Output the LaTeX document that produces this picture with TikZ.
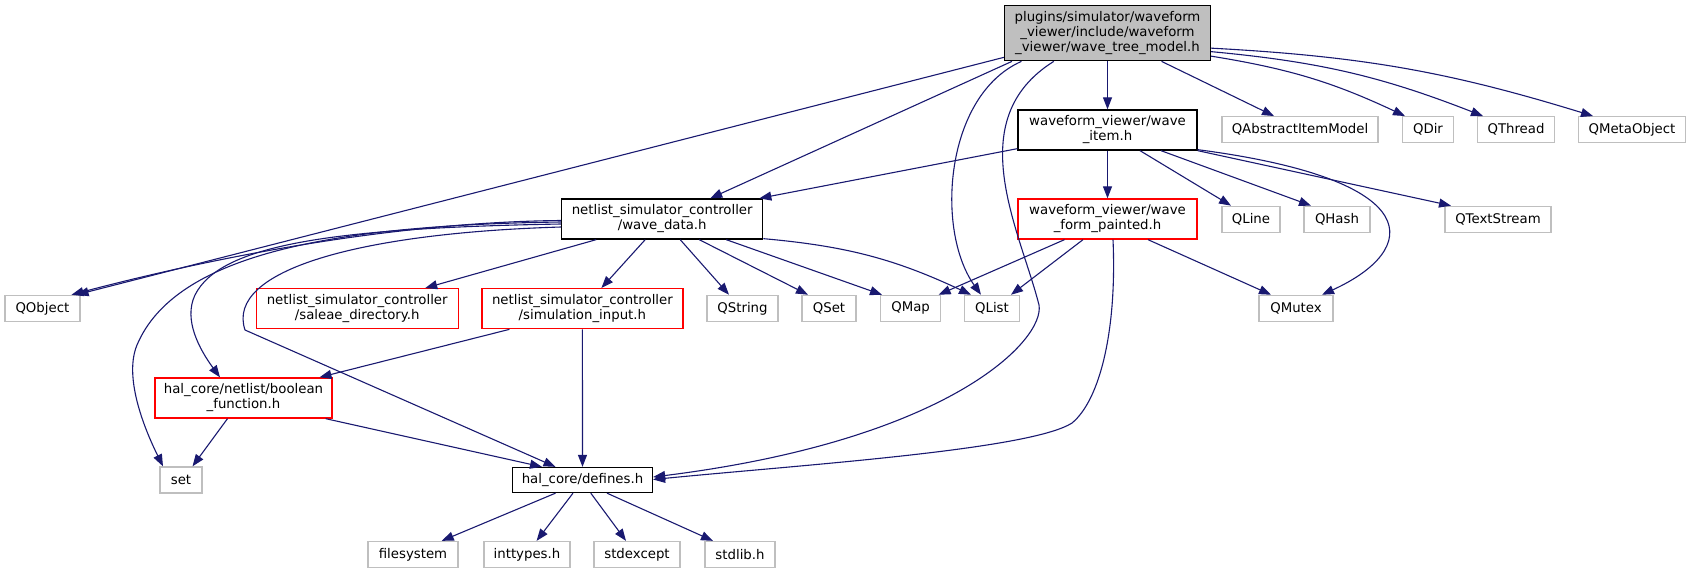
\documentclass[tikz,border=0pt]{standalone}
\usepackage{fontspec}
\setmainfont{DejaVu Sans}
\usepackage{tikz}
\usetikzlibrary{arrows.meta}
\definecolor{incblue}{HTML}{191970}
\definecolor{grey75}{HTML}{BFBFBF}

\begin{document}
\begin{tikzpicture}[x=1pt,y=-1pt,
  hdr/.style={rectangle,draw=black,line width=1.3pt,inner sep=0pt,align=center,font=\fontsize{13.3}{15}\selectfont},
  sys/.style={hdr,draw=grey75},
  part/.style={hdr,draw=red},
  incl/.style={draw=incblue,line width=1.1pt,-{Triangle[length=12pt,width=9pt]}}]
  \useasboundingbox (0,0) rectangle (1691,573);
  % top row
  \node[hdr,fill=grey75,minimum width=206,minimum height=55] (root) at (1107.5,33.2) {plugins/simulator/waveform\\\_viewer/include/waveform\\\_viewer/wave\_tree\_model.h};
  \node[hdr,minimum width=179,minimum height=40] (waveitem) at (1107.5,130) {waveform\_viewer/wave\\\_item.h};
  \node[sys,minimum width=156,minimum height=26] (qaim) at (1300,129.7) {QAbstractItemModel};
  \node[sys,minimum width=51,minimum height=26] (qdir) at (1428,129.7) {QDir};
  \node[sys,minimum width=77,minimum height=26] (qthread) at (1516,129.7) {QThread};
  \node[sys,minimum width=107,minimum height=26] (qmeta) at (1632,129.7) {QMetaObject};
  % middle rows
  \node[hdr,minimum width=201,minimum height=40] (wavedata) at (662.2,219) {netlist\_simulator\_controller\\/wave\_data.h};
  \node[part,minimum width=179,minimum height=40] (painted) at (1107.5,219) {waveform\_viewer/wave\\\_form\_painted.h};
  \node[sys,minimum width=58,minimum height=26] (qline) at (1251,219.3) {QLine};
  \node[sys,minimum width=66,minimum height=26] (qhash) at (1337,219.3) {QHash};
  \node[sys,minimum width=106,minimum height=26] (qtext) at (1498,219.3) {QTextStream};
  \node[sys,minimum width=75,minimum height=26] (qobject) at (42.4,308.4) {QObject};
  \node[part,minimum width=202,minimum height=40] (saleae) at (357.2,308.7) {netlist\_simulator\_controller\\/saleae\_directory.h};
  \node[part,minimum width=201,minimum height=40] (siminput) at (582.4,308.7) {netlist\_simulator\_controller\\/simulation\_input.h};
  \node[sys,minimum width=71,minimum height=26] (qstring) at (742.5,308.4) {QString};
  \node[sys,minimum width=54,minimum height=26] (qset) at (829,308.4) {QSet};
  \node[sys,minimum width=60,minimum height=26] (qmap) at (910.6,308.4) {QMap};
  \node[sys,minimum width=55,minimum height=26] (qlist) at (992,308.4) {QList};
  \node[sys,minimum width=74,minimum height=26] (qmutex) at (1296,308.4) {QMutex};
  \node[part,minimum width=177,minimum height=40] (boolfn) at (243.5,398) {hal\_core/netlist/boolean\\\_function.h};
  % bottom rows
  \node[sys,minimum width=42,minimum height=26] (set) at (181,480) {set};
  \node[hdr,minimum width=140,minimum height=25] (defines) at (582.5,480) {hal\_core/defines.h};
  \node[sys,minimum width=90,minimum height=26] (filesys) at (413,554.5) {filesystem};
  \node[sys,minimum width=86,minimum height=26] (inttypes) at (527,554.5) {inttypes.h};
  \node[sys,minimum width=86,minimum height=26] (stdexc) at (637,554.5) {stdexcept};
  \node[sys,minimum width=70,minimum height=26] (stdlib) at (740,554.5) {stdlib.h};

  % includes of wave_tree_model.h
  \draw[incl] ([yshift=4]root.south west) -- ([xshift=-4]qobject.north east);
  \draw[incl] ([xshift=-95.5]root.south) -- ([xshift=48]wavedata.north);
  \draw[incl] ([xshift=-86]root.south) .. controls (945,95) and (935,230) .. ([xshift=-11]qlist.north);
  \draw[incl] ([xshift=-53.7]root.south) .. controls (960,120) and (1020,230) .. (1039,305) .. controls (1045,340) and (950,440) .. ([yshift=3]defines.east);
  \draw[incl] (root) -- (waveitem);
  \draw[incl] ([xshift=54]root.south) -- ([xshift=-26]qaim.north);
  \draw[incl] ([yshift=5.2]root.south east) to[bend left=8] ([xshift=-23]qdir.north);
  \draw[incl] ([yshift=9.7]root.south east) to[bend left=8] ([xshift=-33]qthread.north);
  \draw[incl] ([yshift=13.2]root.south east) to[bend left=7] ([xshift=-39]qmeta.north);
  % includes of wave_item.h
  \draw[incl] ([yshift=2]waveitem.south west) -- ([xshift=-4]wavedata.north east);
  \draw[incl] (waveitem) -- (painted);
  \draw[incl] ([xshift=32.5]waveitem.south) -- ([xshift=-20]qline.north);
  \draw[incl] ([xshift=53.5]waveitem.south) -- ([xshift=-26]qhash.north);
  \draw[incl] ([yshift=1]waveitem.south east) .. controls (1430,180) and (1420,250) .. ([xshift=26]qmutex.north);
  \draw[incl] (waveitem.south east) -- ([xshift=-47]qtext.north);
  % includes of wave_form_painted.h
  \draw[incl] ([xshift=-43]painted.south) -- ([xshift=28]qmap.north);
  \draw[incl] ([xshift=-24.5]painted.south) -- ([xshift=19]qlist.north);
  \draw[incl] ([xshift=40.5]painted.south) -- ([xshift=-25]qmutex.north);
  \draw[incl] ([xshift=5.5]painted.south) .. controls (1117,330) and (1100,400) .. (1072,423) .. controls (1030,450) and (800,465) .. ([yshift=0.5]defines.east);
  % includes of wave_data.h
  \draw[incl] ([yshift=-1.5]wavedata.west) .. controls (400,222) and (222,255) .. ([xshift=-9]qobject.north east);
  \draw[incl] ([yshift=-3]wavedata.west) .. controls (330,225) and (175,255) .. (137,345) .. controls (122,381) and (150,440) .. ([xshift=-18]set.north);
  \draw[incl] ([yshift=-5]wavedata.west) .. controls (330,228) and (220,245) .. (195,295) .. controls (183,320) and (200,350) .. ([xshift=-23.5]boolfn.north);
  \draw[incl] ([yshift=-8]wavedata.west) .. controls (360,233) and (225,270) .. (245,330) -- ([xshift=-27]defines.north);
  \draw[incl] ([xshift=-66]wavedata.south) -- ([xshift=68]saleae.north);
  \draw[incl] ([xshift=-17]wavedata.south) -- ([xshift=19]siminput.north);
  \draw[incl] ([xshift=18]wavedata.south) -- ([xshift=-13.5]qstring.north);
  \draw[incl] ([xshift=37]wavedata.south) -- ([xshift=-21]qset.north);
  \draw[incl] ([xshift=64]wavedata.south) -- ([xshift=-28.6]qmap.north);
  \draw[incl] ([yshift=1]wavedata.south east) to[bend left=10] ([xshift=-21]qlist.north);
  % includes of simulation_input.h and boolean_function.h
  \draw[incl] ([xshift=-73]siminput.south) -- ([xshift=76]boolfn.north);
  \draw[incl] (siminput) -- (defines);
  \draw[incl] ([xshift=-16]boolfn.south) -- ([xshift=11.5]set.north);
  \draw[incl] ([xshift=-7]boolfn.south east) -- ([xshift=-40.5]defines.north);
  % includes of defines.h
  \draw[incl] ([xshift=-27]defines.south) -- ([xshift=28.7]filesys.north);
  \draw[incl] ([xshift=-9.5]defines.south) -- ([xshift=9.6]inttypes.north);
  \draw[incl] ([xshift=8.3]defines.south) -- ([xshift=-11]stdexc.north);
  \draw[incl] ([xshift=24.5]defines.south) -- ([xshift=-27]stdlib.north);
\end{tikzpicture}
\end{document}
